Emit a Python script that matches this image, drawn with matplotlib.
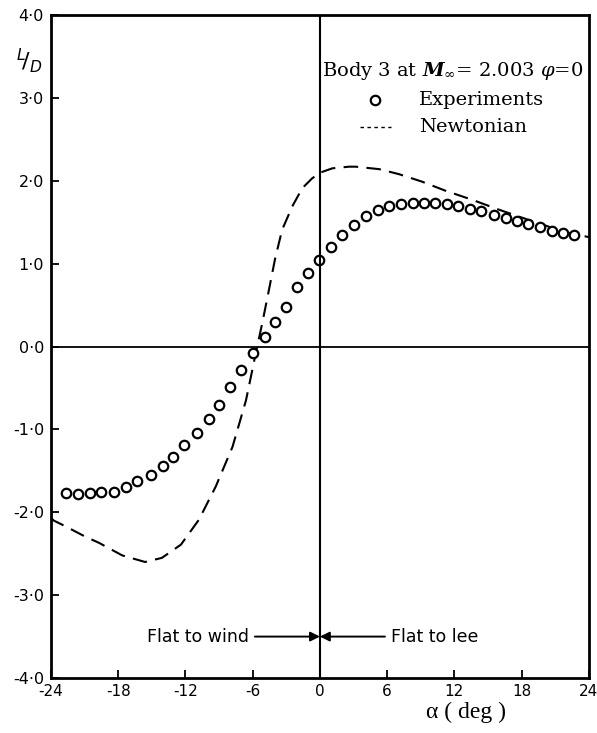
import matplotlib
matplotlib.use("Agg")
import matplotlib.pyplot as plt

plt.rcParams['mathtext.fontset'] = 'dejavuserif'

# Measured lift-to-drag ratio, Body 3
alpha_exp = [-22.7, -21.6, -20.5, -19.5, -18.4, -17.3, -16.3, -15.1, -14.0, -13.1,
             -12.1, -11.0, -9.9, -9.0, -8.0, -7.0, -6.0, -4.9, -4.05, -3.06,
             -2.08, -1.04, -0.05, 0.96, 2.0, 3.06, 4.1, 5.2, 6.2, 7.2,
             8.3, 9.3, 10.3, 11.3, 12.3, 13.4, 14.4, 15.5, 16.6, 17.6,
             18.6, 19.6, 20.7, 21.7, 22.7]
ld_exp = [-1.77, -1.78, -1.77, -1.76, -1.75, -1.69, -1.62, -1.55, -1.44, -1.33,
          -1.19, -1.04, -0.87, -0.70, -0.49, -0.28, -0.08, 0.11, 0.29, 0.48,
          0.72, 0.89, 1.05, 1.20, 1.34, 1.47, 1.57, 1.65, 1.69, 1.72,
          1.73, 1.73, 1.73, 1.72, 1.69, 1.66, 1.63, 1.59, 1.55, 1.52,
          1.48, 1.44, 1.40, 1.37, 1.35]

# Newtonian theory
alpha_newt = [-24.0, -23.75, -22.7, -21.0, -19.7, -17.65, -15.6, -14.1, -12.4, -10.8,
              -9.3, -7.8, -6.6, -5.6, -5.15, -4.6, -4.0, -3.37, -2.47, -1.58,
              -0.69, 0.06, 1.1, 2.6, 3.2, 5.3, 7.05, 9.1, 11.2, 13.6,
              16.0, 19.0, 21.9, 24.0]
ld_newt = [-2.07, -2.10, -2.17, -2.29, -2.37, -2.52, -2.60, -2.55, -2.39, -2.09,
           -1.69, -1.21, -0.65, 0.0, 0.28, 0.65, 1.06, 1.41, 1.69, 1.91,
           2.03, 2.10, 2.15, 2.17, 2.17, 2.14, 2.08, 1.99, 1.88, 1.77,
           1.65, 1.51, 1.38, 1.32]

x_ticks = [-24, -18, -12, -6, 0, 6, 12, 18, 24]
x_labels = ['-24', '-18', '-12', '-6', '0', '6', '12', '18', '24']
y_ticks = [-4, -3, -2, -1, 0, 1, 2, 3, 4]
y_labels = ['-4·0', '-3·0', '-2·0', '-1·0', '0·0', '1·0', '2·0', '3·0', '4·0']

fig = plt.figure(figsize=(5.97, 7.33), dpi=100)
ax = fig.add_axes([0.0854, 0.075, 0.901, 0.9045])

ax.plot(alpha_newt, ld_newt, color='black', lw=1.5, linestyle=(0, (7, 4)))
ax.plot(alpha_exp, ld_exp, linestyle='none', marker='o', markersize=6.8,
        markerfacecolor='white', markeredgecolor='black', markeredgewidth=1.6)

# reference lines through the origin
ax.axhline(0, color='black', lw=1.3)
ax.axvline(0, color='black', lw=1.5)

ax.set_xlim(-24, 24)
ax.set_ylim(-4, 4)
ax.set_xticks(x_ticks)
ax.set_xticklabels(x_labels, family='DejaVu Sans', fontsize=11)
ax.set_yticks(y_ticks)
ax.set_yticklabels(y_labels, family='DejaVu Sans', fontsize=11.5)
ax.tick_params(direction='in', length=6, width=1.3, pad=5)
ax.tick_params(axis='x', pad=4)
for s in ax.spines.values():
    s.set_linewidth(2)

fig.text(0.05, 0.918, r'$^{L}\!/_{D}$', fontsize=16, math_fontfamily='dejavusans',
         ha='center', va='center')
fig.text(0.78, 0.028, 'α ( deg )', family='Liberation Serif', fontsize=17,
         ha='center', va='center')

# legend block
ax.text(0.2, 3.33, r'Body 3 at $\boldsymbol{M}_{\infty}$= 2.003 $\varphi$=0',
        family='DejaVu Serif', fontsize=14, ha='left', va='center')
ax.plot([4.95], [2.97], linestyle='none', marker='o', markersize=6.8,
        markerfacecolor='white', markeredgecolor='black', markeredgewidth=1.6)
ax.text(8.8, 2.97, 'Experiments', family='DejaVu Serif', fontsize=14,
        ha='left', va='center')
ax.plot([3.6, 6.3], [2.65, 2.65], color='black', lw=1.0, linestyle=(0, (2.5, 2.5)))
ax.text(8.8, 2.65, 'Newtonian', family='DejaVu Serif', fontsize=14,
        ha='left', va='center')

# orientation annotations
arrow = dict(arrowstyle='-|>', color='black', lw=1.4, mutation_scale=14,
             shrinkA=2, shrinkB=0)
ax.annotate('Flat to wind', xy=(0, -3.5), xytext=(-6.3, -3.5),
            ha='right', va='center', fontsize=12.5, arrowprops=arrow)
ax.annotate('Flat to lee', xy=(0, -3.5), xytext=(6.3, -3.5),
            ha='left', va='center', fontsize=12.5, arrowprops=arrow)

fig.savefig('out.png', dpi=100)
